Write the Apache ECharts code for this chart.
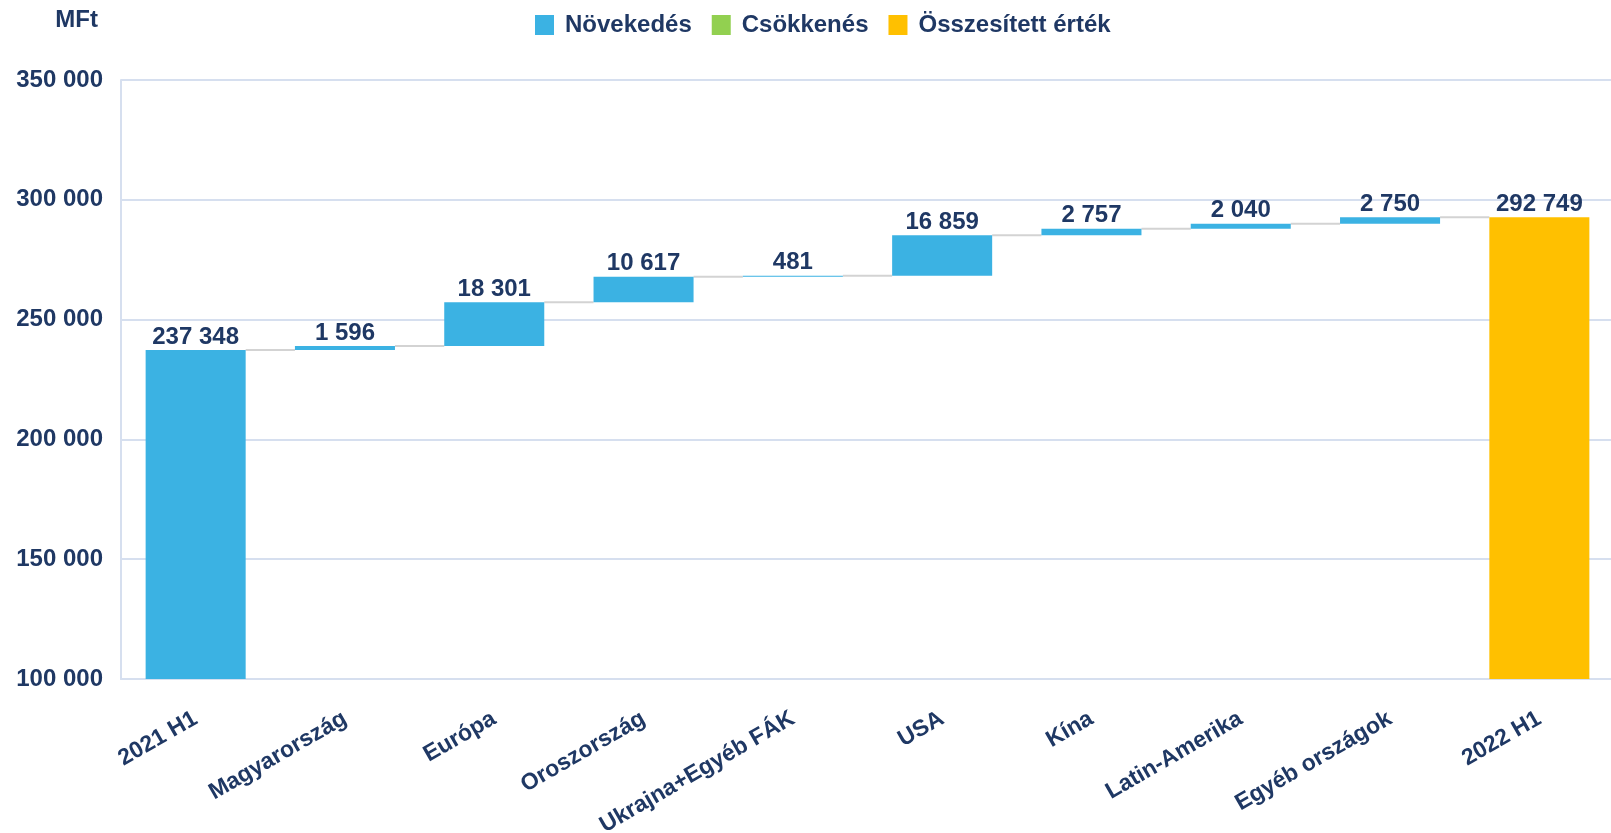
<!DOCTYPE html>
<html>
<head>
<meta charset="utf-8">
<script src="https://cdn.jsdelivr.net/npm/echarts@6/dist/echarts.min.js"></script>
<style>
  html, body { margin: 0; padding: 0; background: #fff; }
  #chart { width: 1611px; height: 833px; }
</style>
</head>
<body>
<div id="chart"></div>
<script>
const categories = ["2021 H1", "Magyarország", "Európa", "Oroszország", "Ukrajna+Egyéb FÁK", "USA", "Kína", "Latin-Amerika", "Egyéb országok", "2022 H1"];
const startValue = 237348;
const increases = [1596, 18301, 10617, 481, 16859, 2757, 2040, 2750];
const endValue = 292749;
const legendNames = ["Növekedés", "Csökkenés", "Összesített érték"];

const navy = "#1F3864";
const font = "Liberation Sans";

function fmt(v) {
  return String(v).replace(/\B(?=(\d{3})+(?!\d))/g, " ");
}

// running totals for the waterfall
const tops = [startValue];
increases.forEach((d) => tops.push(tops[tops.length - 1] + d));
const helper = [0].concat(tops.slice(0, increases.length)).concat([0]);
const upData = [startValue].concat(increases).concat(["-"]);
const downData = categories.map(() => "-");
const totalData = categories.map((c, i) => (i === categories.length - 1 ? endValue : "-"));
const connectors = tops.map((v, i) => [i, v]);

const barPct = 0.67;
const labelStyle = {
  show: true,
  position: "top",
  distance: 1,
  color: navy,
  fontFamily: font,
  fontWeight: "bold",
  fontSize: 24,
  formatter: (p) => fmt(p.value),
};

const chart = echarts.init(document.getElementById("chart"));
chart.setOption({
  animation: false,
  textStyle: { fontFamily: font },
  legend: {
    data: legendNames,
    icon: "rect",
    left: 530,
    top: 8,
    itemWidth: 19,
    itemHeight: 20,
    itemGap: 20,
    textStyle: { color: navy, fontWeight: "bold", fontSize: 24, fontFamily: font, padding: [0, 0, 0, 6] },
  },
  grid: { left: 121, top: 80, bottom: 154, width: 1493, outerBoundsMode: "none" },
  xAxis: {
    type: "category",
    data: categories,
    axisTick: { show: false },
    axisLine: { lineStyle: { color: "#D6DFEF", width: 2 } },
    axisLabel: {
      rotate: 30,
      margin: 38,
      interval: 0,
      color: navy,
      fontFamily: font,
      fontWeight: "bold",
      fontSize: 23,
    },
  },
  yAxis: {
    type: "value",
    min: 100000,
    max: 350000,
    interval: 50000,
    name: "MFt",
    nameLocation: "end",
    nameGap: 60,
    nameTextStyle: { color: navy, fontWeight: "bold", fontSize: 24, fontFamily: font, align: "right", verticalAlign: "middle", padding: [0, 23, 0, 0] },
    axisLine: { show: true, lineStyle: { color: "#D6DFEF", width: 2 } },
    axisTick: { show: false },
    splitLine: { lineStyle: { color: "#D6DFEF", width: 2 } },
    axisLabel: { color: navy, fontWeight: "bold", fontSize: 24, fontFamily: font, margin: 18, formatter: (v) => fmt(v) },
  },
  series: [
    {
      type: "custom",
      name: "connector",
      z: 1,
      silent: true,
      data: connectors,
      renderItem: (params, api) => {
        const i = api.value(0);
        const v = api.value(1);
        const bw = api.size([1, 0])[0] * barPct;
        const a = api.coord([i, v]);
        const b = api.coord([i + 1, v]);
        return {
          type: "line",
          shape: { x1: a[0] + bw / 2, y1: a[1], x2: b[0] - bw / 2, y2: b[1] },
          style: { stroke: "#D3D3D3", lineWidth: 2 },
        };
      },
    },
    {
      type: "bar",
      name: "helper",
      stack: "w",
      barWidth: barPct * 100 + "%",
      itemStyle: { color: "transparent" },
      silent: true,
      data: helper,
    },
    {
      type: "bar",
      name: "Növekedés",
      stack: "w",
      itemStyle: { color: "#3BB2E3" },
      label: labelStyle,
      data: upData,
    },
    {
      type: "bar",
      name: "Csökkenés",
      stack: "w",
      itemStyle: { color: "#92D050" },
      label: labelStyle,
      data: downData,
    },
    {
      type: "bar",
      name: "Összesített érték",
      stack: "w",
      itemStyle: { color: "#FFC000" },
      label: labelStyle,
      data: totalData,
    },
  ],
});
</script>
</body>
</html>
